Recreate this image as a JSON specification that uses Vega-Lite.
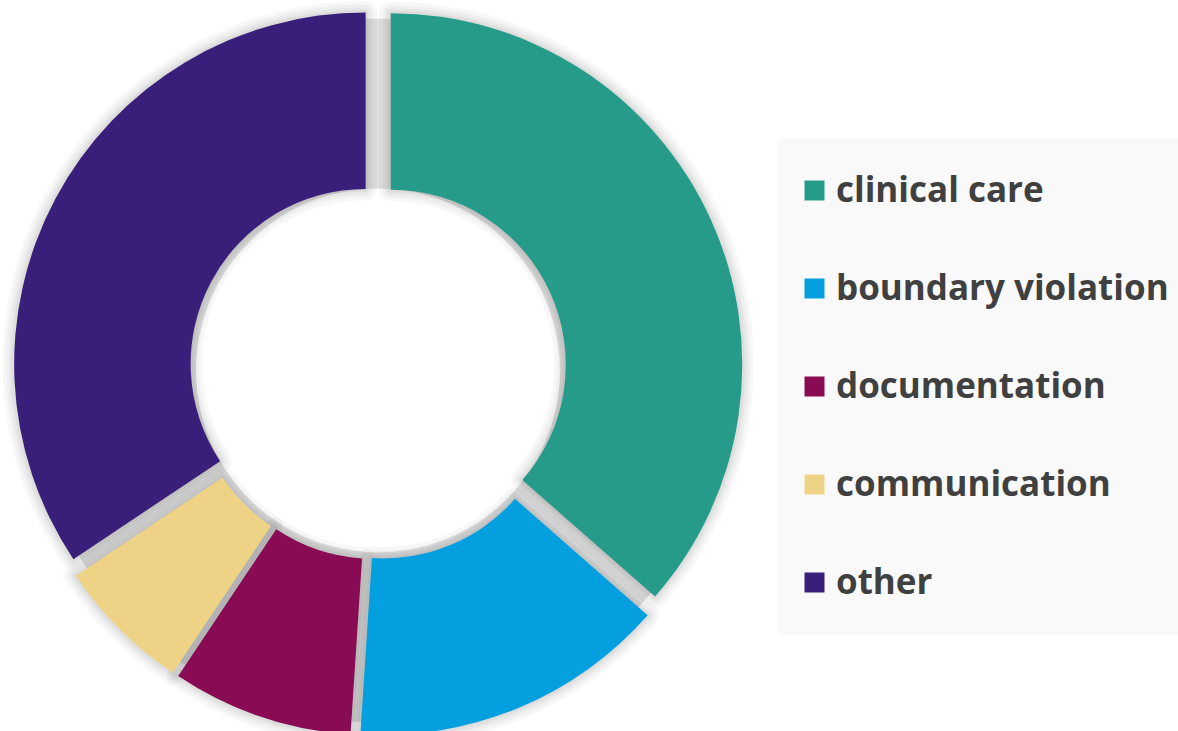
{
  "$schema": "https://vega.github.io/schema/vega-lite/v6.json",
  "width": 756,
  "height": 739,
  "padding": 0,
  "background": "white",
  "config": {"view": {"stroke": null}},
  "data": {"values": [
    {"category": "clinical care", "count": 35},
    {"category": "boundary violation", "count": 14},
    {"category": "documentation", "count": 8},
    {"category": "communication", "count": 6},
    {"category": "other", "count": 33}
  ]},
  "transform": [
    {"window": [{"op": "row_number", "as": "idx"}]},
    {"stack": "count", "groupby": [], "sort": [{"field": "idx", "order": "ascending"}], "as": ["start", "end"]},
    {"joinaggregate": [{"op": "sum", "field": "count", "as": "total"}]}
  ],
  "encoding": {
    "theta": {"field": "end", "type": "quantitative", "stack": null, "scale": {"zero": true, "nice": false}},
    "theta2": {"field": "start"}
  },
  "layer": [
    {"mark": {"type": "arc", "radius": 352, "radius2": 182, "color": "#e0e0e0"}},
    {"mark": {"type": "arc", "radius": 351.5, "radius2": 175, "fill": "#000", "fillOpacity": 0, "stroke": "#000", "strokeOpacity": 0.03, "strokeWidth": 23, "strokeJoin": "round",
      "xOffset": {"expr": "14*sin(PI*(datum.start+datum.end)/datum.total)"},
      "yOffset": {"expr": "-14*cos(PI*(datum.start+datum.end)/datum.total)"}}},
    {"mark": {"type": "arc", "radius": 351.5, "radius2": 175, "fill": "#000", "fillOpacity": 0, "stroke": "#000", "strokeOpacity": 0.03, "strokeWidth": 16, "strokeJoin": "round",
      "xOffset": {"expr": "14*sin(PI*(datum.start+datum.end)/datum.total)"},
      "yOffset": {"expr": "-14*cos(PI*(datum.start+datum.end)/datum.total)"}}},
    {"mark": {"type": "arc", "radius": 351.5, "radius2": 175, "fill": "#000", "fillOpacity": 0, "stroke": "#000", "strokeOpacity": 0.035, "strokeWidth": 10, "strokeJoin": "round",
      "xOffset": {"expr": "14*sin(PI*(datum.start+datum.end)/datum.total)"},
      "yOffset": {"expr": "-14*cos(PI*(datum.start+datum.end)/datum.total)"}}},
    {"mark": {"type": "arc", "radius": 351.5, "radius2": 175, "fill": "#000", "fillOpacity": 0, "stroke": "#000", "strokeOpacity": 0.04, "strokeWidth": 5, "strokeJoin": "round",
      "xOffset": {"expr": "14*sin(PI*(datum.start+datum.end)/datum.total)"},
      "yOffset": {"expr": "-14*cos(PI*(datum.start+datum.end)/datum.total)"}}},
    {"mark": {"type": "arc", "radius": 351.5, "radius2": 175,
      "xOffset": {"expr": "14*sin(PI*(datum.start+datum.end)/datum.total)"},
      "yOffset": {"expr": "-14*cos(PI*(datum.start+datum.end)/datum.total)"}},
     "encoding": {"color": {"field": "category", "type": "nominal",
       "scale": {"domain": ["clinical care", "boundary violation", "documentation", "communication", "other"],
                 "range": ["#279B89", "#039FDF", "#880B53", "#EED386", "#3A1F7A"]},
       "legend": {
         "title": null, "orient": "none", "legendX": 779, "legendY": 138,
         "fillColor": "#f9f9f9", "padding": 34,
         "symbolType": "square", "symbolSize": 400, "symbolStrokeWidth": 0, "symbolOffset": -16,
         "labelFont": "Open Sans", "labelFontSize": 35, "labelFontWeight": "bold",
         "labelColor": "#404040", "labelOffset": 4, "rowPadding": 62, "labelLimit": 500
       }}}}
  ]
}
